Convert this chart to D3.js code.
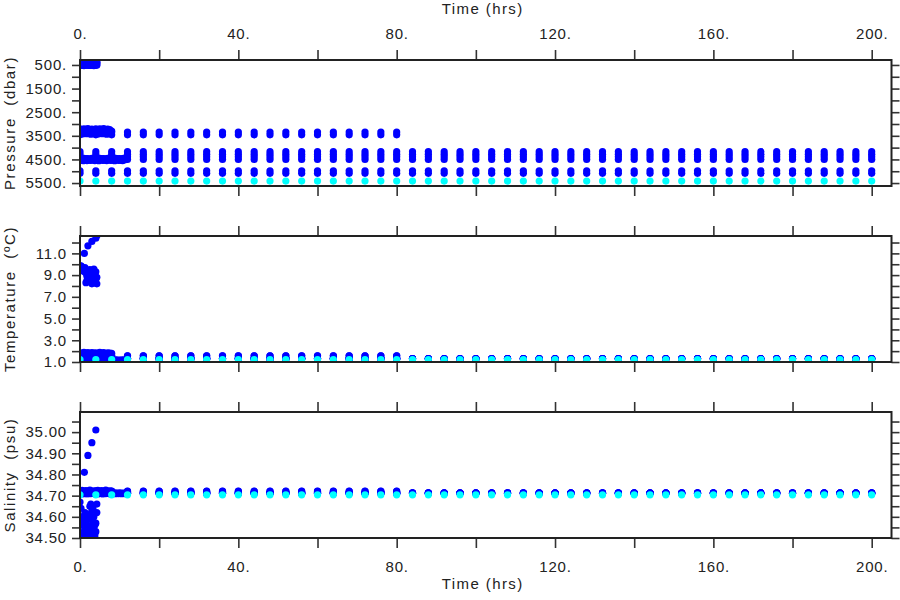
<!DOCTYPE html>
<html>
<head>
<meta charset="utf-8">
<script src="https://cdn.jsdelivr.net/npm/d3@7"></script>
<style>
  html, body { margin: 0; padding: 0; background: #fff; }
  svg text { font-family: "Liberation Sans", Arial, sans-serif; fill: #222; }
</style>
</head>
<body>
<svg id="chart" width="900" height="600"></svg>
<script>
// ---------------- DATA ----------------
const timeTicks = [0, 20, 40, 60, 80, 100, 120, 140, 160, 180, 200];
const timeLabels = [0, 40, 80, 120, 160, 200];
const pressureTicks = [500, 1000, 1500, 2000, 2500, 3000, 3500, 4000, 4500, 5000, 5500];
const pressureLabels = [500, 1500, 2500, 3500, 4500, 5500];
const temperatureTicks = [1, 2, 3, 4, 5, 6, 7, 8, 9, 10, 11, 12];
const temperatureLabels = [1, 3, 5, 7, 9, 11];
const salinityTicks = [34.50, 34.55, 34.60, 34.65, 34.70, 34.75, 34.80, 34.85, 34.90, 34.95, 35.00, 35.05];
const salinityLabels = [34.50, 34.60, 34.70, 34.80, 34.90, 35.00];

// regular mooring sampling times (hrs)
const mooringTime = [0, 4, 8, 12, 16, 20, 24, 28, 32, 36, 40, 44, 48, 52, 56, 60, 64, 68, 72, 76, 80,
  84, 88, 92, 96, 100, 104, 108, 112, 116, 120, 124, 128, 132, 136, 140, 144, 148, 152, 156, 160,
  164, 168, 172, 176, 180, 184, 188, 192, 196, 200];
// mooring instruments
const instName     = ["A1", "A2", "B1", "B2", "B3", "B4", "C1", "C2", "D"];
const instGroup    = ["blue", "blue", "blue", "blue", "blue", "blue", "blue", "blue", "cyan"];
const instLastHour = [80, 80, 200, 200, 200, 200, 200, 200, 200];
const instPressure = [3340, 3460, 4170, 4280, 4390, 4500, 4980, 5090, 5415];
const instTemp     = [1.57, 1.57, 1.32, 1.31, 1.30, 1.30, 1.28, 1.28, 1.22];
const instSal      = [34.722, 34.720, 34.713, 34.713, 34.712, 34.712, 34.711, 34.711, 34.704];

// shallow instruments, dense sampling at start
const shallowTime  = [0.0, 0.25, 0.5, 0.75, 1.0, 1.25, 1.5, 1.75, 2.0, 2.25, 2.5, 2.75, 3.0, 3.25, 3.5, 3.75, 4.0, 4.25];
const shallowPres  = [520, 505, 495, 510, 525, 500, 490, 515, 505, 495, 520, 500, 490, 510, 525, 505, 495, 515];
const shallowTemp  = [9.85, 9.7, 9.5, 9.4, 9.6, 9.3, 9.2, 8.9, 8.6, 8.4, 8.7, 9.1, 9.4, 8.9, 8.5, 8.3, 8.6, 8.2];
const shallowSal   = [34.67, 34.64, 34.60, 34.56, 34.53, 34.55, 34.58, 34.52, 34.56, 34.61, 34.65, 34.66, 34.63, 34.58, 34.54, 34.51, 34.57, 34.62];
const shallowPres2 = [450, 470, 440, 460, 480, 455, 445, 470, 460, 440, 475, 450, 465, 445, 470, 455, 440, 460];
const shallowTemp2 = [9.6, 9.85, 9.75, 9.55, 9.35, 9.7, 8.3, 8.5, 9.0, 9.3, 9.5, 8.4, 8.2, 9.2, 9.55, 9.0, 9.3, 8.8];
const shallowSal2  = [34.60, 34.57, 34.52, 34.50, 34.58, 34.62, 34.54, 34.60, 34.51, 34.53, 34.59, 34.55, 34.52, 34.64, 34.60, 34.56, 34.53, 34.66];

// shallow warm/salty points
const arcTime = [1.1, 2.0, 3.0, 4.0, 4.3];
const arcPres = [470, 440, 420, 400, 380];
const arcTemp = [11.0, 11.7, 12.1, 12.4, 12.65];
const arcSal  = [34.81, 34.89, 34.95, 35.01, 34.71];

// ~3300 dbar dense sampling at start
const midTime = [0, 0.25, 0.5, 0.75, 1, 1.25, 1.5, 1.75, 2, 2.25, 2.5, 2.75, 3, 3.25, 3.5, 3.75, 4,
  4.25, 4.5, 4.75, 5, 5.25, 5.5, 5.75, 6, 6.25, 6.5, 6.75, 7, 7.25, 7.5, 7.75, 8];
const midPres = [3210, 3390, 3250, 3420, 3200, 3360, 3230, 3410, 3190, 3380, 3260, 3430, 3220, 3370, 3240, 3400, 3210,
  3390, 3250, 3420, 3200, 3360, 3230, 3410, 3190, 3380, 3260, 3430, 3220, 3370, 3240, 3400, 3300];
const midTemp = [1.85, 1.72, 1.80, 1.68, 1.88, 1.75, 1.82, 1.70, 1.86, 1.74, 1.79, 1.66, 1.87, 1.73, 1.81, 1.69, 1.84,
  1.76, 1.80, 1.67, 1.88, 1.72, 1.83, 1.70, 1.86, 1.75, 1.78, 1.68, 1.85, 1.73, 1.82, 1.71, 1.80];
const midSal  = [34.720, 34.712, 34.725, 34.710, 34.722, 34.714, 34.724, 34.709, 34.721, 34.713, 34.726, 34.711, 34.720, 34.715, 34.723, 34.710, 34.722,
  34.712, 34.725, 34.710, 34.721, 34.714, 34.724, 34.709, 34.720, 34.713, 34.726, 34.711, 34.722, 34.715, 34.723, 34.710, 34.720];

// ~4500 dbar dense sampling at start
const deepTime = [0, 0.25, 0.5, 0.75, 1, 1.25, 1.5, 1.75, 2, 2.25, 2.5, 2.75, 3, 3.25, 3.5, 3.75, 4, 4.25, 4.5, 4.75,
  5, 5.25, 5.5, 5.75, 6, 6.25, 6.5, 6.75, 7, 7.25, 7.5, 7.75, 8, 8.25, 8.5, 8.75, 9, 9.25, 9.5, 9.75,
  10, 10.25, 10.5, 10.75, 11, 11.25, 11.5];
const deepPres = [4460, 4540, 4480, 4555, 4450, 4520, 4470, 4550, 4460, 4530, 4490, 4545, 4455, 4525, 4475, 4550, 4465, 4535, 4485, 4555,
  4450, 4520, 4470, 4545, 4460, 4530, 4480, 4550, 4455, 4525, 4475, 4540, 4465, 4535, 4485, 4555, 4450, 4520, 4470, 4545,
  4460, 4530, 4480, 4550, 4455, 4525, 4500];
const deepTemp = [1.18, 1.15, 1.17, 1.14, 1.19, 1.16, 1.18, 1.15, 1.17, 1.14, 1.18, 1.16, 1.19, 1.15, 1.17, 1.14, 1.18, 1.16, 1.17, 1.15,
  1.19, 1.14, 1.18, 1.16, 1.17, 1.15, 1.18, 1.14, 1.19, 1.16, 1.17, 1.15, 1.18, 1.14, 1.17, 1.16, 1.19, 1.15, 1.18, 1.14,
  1.17, 1.16, 1.18, 1.15, 1.19, 1.14, 1.17];
const deepSal  = [34.712, 34.710, 34.711, 34.713, 34.709, 34.712, 34.711, 34.710, 34.713, 34.711, 34.709, 34.712, 34.711, 34.713, 34.710, 34.711, 34.712, 34.709, 34.711, 34.713,
  34.710, 34.712, 34.711, 34.709, 34.713, 34.711, 34.710, 34.712, 34.711, 34.713, 34.709, 34.711, 34.712, 34.710, 34.711, 34.713, 34.709, 34.712, 34.711, 34.710,
  34.713, 34.711, 34.709, 34.712, 34.711, 34.710, 34.712];

// ---------------- BUILD RECORDS ----------------
const records = [];
function addSeries(group, t, p, te, s) {
  t.forEach((d, i) => records.push({ group, time: d, pressure: p[i], temperature: te[i], salinity: s[i] }));
}
addSeries("blue", shallowTime, shallowPres, shallowTemp, shallowSal);
addSeries("blue", shallowTime, shallowPres2, shallowTemp2, shallowSal2);
addSeries("blue", arcTime, arcPres, arcTemp, arcSal);
addSeries("blue", midTime, midPres, midTemp, midSal);
addSeries("blue", deepTime, deepPres, deepTemp, deepSal);
instName.forEach((n, k) => {
  mooringTime.filter(t => t <= instLastHour[k]).forEach(t => {
    records.push({ group: instGroup[k], time: t, pressure: instPressure[k], temperature: instTemp[k], salinity: instSal[k] });
  });
});
// cyan drawn last (on top)
records.sort((a, b) => (a.group === "cyan") - (b.group === "cyan"));

// ---------------- DRAW ----------------
const colors = { blue: "#0000ff", cyan: "#00ffff" };
const svg = d3.select("#chart");
const left = 80, right = 891.5, panelH = 126;
const x = d3.scaleLinear().domain([0, 205]).range([left, right]);

const panels = [
  { key: "pressure", title: "Pressure  (dbar)", top: 60, domain: [290, 5625], reversed: true,
    ticks: pressureTicks, labels: pressureLabels, fmt: d => d3.format("d")(d) + "." },
  { key: "temperature", title: "Temperature  (\u00baC)", top: 236, domain: [1.0, 12.6], reversed: false,
    ticks: temperatureTicks, labels: temperatureLabels, fmt: d3.format(".1f") },
  { key: "salinity", title: "Salinity  (psu)", top: 412, domain: [34.5, 35.095], reversed: false,
    ticks: salinityTicks, labels: salinityLabels, fmt: d3.format(".2f") }
];

const tickFont = "15px";
panels.forEach((pn, pi) => {
  const y = d3.scaleLinear().domain(pn.domain)
    .range(pn.reversed ? [pn.top, pn.top + panelH] : [pn.top + panelH, pn.top]);
  const g = svg.append("g");

  const clipId = "clip-" + pn.key;
  svg.append("clipPath").attr("id", clipId).append("rect")
    .attr("x", left).attr("y", pn.top).attr("width", right - left).attr("height", panelH);

  g.append("g").attr("clip-path", `url(#${clipId})`)
    .selectAll("circle").data(records).join("circle")
    .attr("cx", d => x(d.time))
    .attr("cy", d => y(d[pn.key]))
    .attr("r", 3.6)
    .attr("fill", d => colors[d.group]);

  const isLabel = (arr, d) => arr.some(v => Math.abs(v - d) < 1e-9);

  const la = g.append("g").attr("transform", `translate(${left},0)`)
    .call(d3.axisLeft(y).tickValues(pn.ticks).tickSize(8).tickPadding(5)
      .tickFormat(d => isLabel(pn.labels, d) ? pn.fmt(d) : ""));
  const ra = g.append("g").attr("transform", `translate(${right},0)`)
    .call(d3.axisRight(y).tickValues(pn.ticks).tickSize(8).tickFormat(""));
  const ta = g.append("g").attr("transform", `translate(0,${pn.top})`)
    .call(d3.axisTop(x).tickValues(timeTicks).tickSize(10).tickPadding(11)
      .tickFormat(d => (pi === 0 && isLabel(timeLabels, d)) ? d + "." : ""));
  const ba = g.append("g").attr("transform", `translate(0,${pn.top + panelH})`)
    .call(d3.axisBottom(x).tickValues(timeTicks).tickSize(10).tickPadding(13)
      .tickFormat(d => (pi === 2 && isLabel(timeLabels, d)) ? d + "." : ""));

  [la, ra, ta, ba].forEach(a => {
    a.select(".domain").remove();
    a.selectAll(".tick line").attr("stroke", "#333").attr("stroke-width", 1.6);
    a.selectAll(".tick text").style("font-size", tickFont).style("letter-spacing", "0.8px")
      .style("font-family", "'Liberation Sans', Arial, sans-serif").attr("fill", "#222");
  });

  g.append("rect").attr("x", left).attr("y", pn.top).attr("width", right - left).attr("height", panelH)
    .attr("fill", "none").attr("stroke", "#222").attr("stroke-width", 2);

  g.append("text")
    .attr("transform", `translate(15,${pn.top + panelH / 2}) rotate(-90)`)
    .attr("text-anchor", "middle")
    .style("font-size", "15px").style("letter-spacing", "1.6px").style("white-space", "pre")
    .text(pn.title);
});

svg.append("text").attr("x", (left + right) / 2 - 3).attr("y", 14).attr("text-anchor", "middle")
  .style("font-size", "15px").style("letter-spacing", "1.4px").text("Time (hrs)");
svg.append("text").attr("x", (left + right) / 2 - 3).attr("y", 589).attr("text-anchor", "middle")
  .style("font-size", "15px").style("letter-spacing", "1.4px").text("Time (hrs)");
</script>
</body>
</html>
